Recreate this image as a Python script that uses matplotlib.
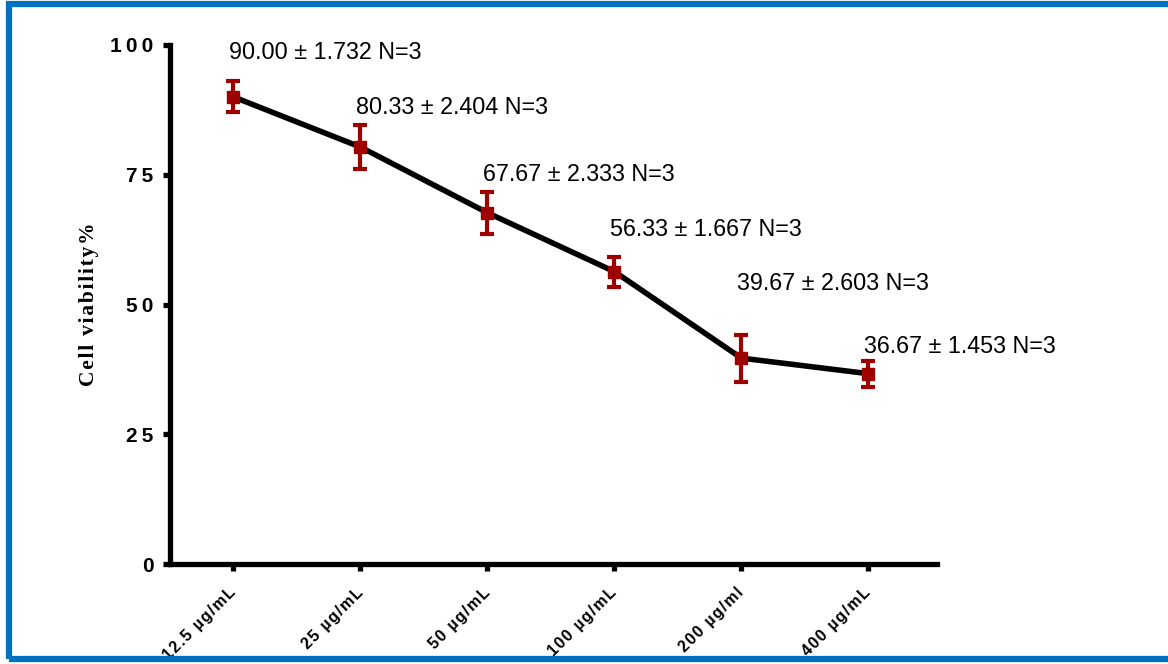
import numpy as np
import matplotlib
matplotlib.use("Agg")
import matplotlib.pyplot as plt
from matplotlib.patches import Rectangle

# Cell viability per concentration (mean, SEM, n)
concentrations = ["12.5 µg/mL", "25 µg/mL", "50 µg/mL", "100 µg/mL", "200 µg/ml", "400 µg/mL"]
viability_mean = [90.00, 80.33, 67.67, 56.33, 39.67, 36.67]
viability_sem = [1.732, 2.404, 2.333, 1.667, 2.603, 1.453]
n_reps = [3, 3, 3, 3, 3, 3]
y_ticks = [0, 25, 50, 75, 100]

# annotation heights (data units) for the mean ± SEM labels
label_y = [98.6, 87.9, 75.1, 64.4, 54.1, 42.0]

RED = "#9E0000"
BLUE = "#0070C0"


def spaced(s, sep=" "):
    return sep.join(s)


fig = plt.figure(figsize=(11.68, 6.64), dpi=100)
ax = fig.add_axes([170 / 1168, 1 - 564 / 664, (937 - 170) / 1168, (564 - 45) / 664])

x = np.arange(len(concentrations))
sd = np.array(viability_sem) * np.sqrt(n_reps)

ax.plot(x, viability_mean, color="black", lw=4.0, zorder=2, solid_capstyle="butt")
ax.errorbar(x, viability_mean, yerr=sd, fmt="s", color=RED, ms=8.5, mec=RED,
            elinewidth=3.0, capsize=4.8, capthick=3.0, zorder=3)

for xi, m, s, n, ly in zip(x, viability_mean, viability_sem, n_reps, label_y):
    ax.text(xi - 0.035, ly, f"{m:.2f} ± {s:.3f} N={n}", fontsize=16.8,
            family="Liberation Sans", ha="left", va="center", zorder=4)

ax.set_xlim(-0.5, 5.54)
ax.set_ylim(0, 100)

for side in ("top", "right"):
    ax.spines[side].set_visible(False)
for side in ("left", "bottom"):
    ax.spines[side].set_linewidth(3.8)
    ax.spines[side].set_capstyle("projecting")

ax.set_yticks(y_ticks)
ax.set_yticklabels([spaced(str(t), "\u2009") for t in y_ticks], fontsize=15,
                   fontweight="bold", family=["Liberation Sans", "DejaVu Sans"])
ax.set_xticks(x)
ax.set_xticklabels([spaced(c, "\u200a") for c in concentrations], fontsize=11.5,
                   fontweight="bold", family=["Liberation Sans", "DejaVu Sans"],
                   rotation=45, ha="right", va="center", rotation_mode="anchor")
ax.tick_params(axis="both", direction="out", length=5, width=3.8, color="black")
ax.tick_params(axis="y", pad=7)
ax.tick_params(axis="x", pad=14)

ax.set_ylabel(spaced("Cell viability%", "\u200a"), fontsize=15.5, fontweight="bold",
              family=["Liberation Serif", "DejaVu Serif"], labelpad=0)
ax.yaxis.set_label_coords((99 - 170) / 767, 0.5)

# blue frame around the figure
fig.patches.append(Rectangle((9 / 1168, 1 - 658.5 / 664), 1.2, (658.5 - 4) / 664,
                             transform=fig.transFigure, fill=False, edgecolor=BLUE,
                             lw=4.5, zorder=10))

fig.savefig("out.png", dpi=100)
